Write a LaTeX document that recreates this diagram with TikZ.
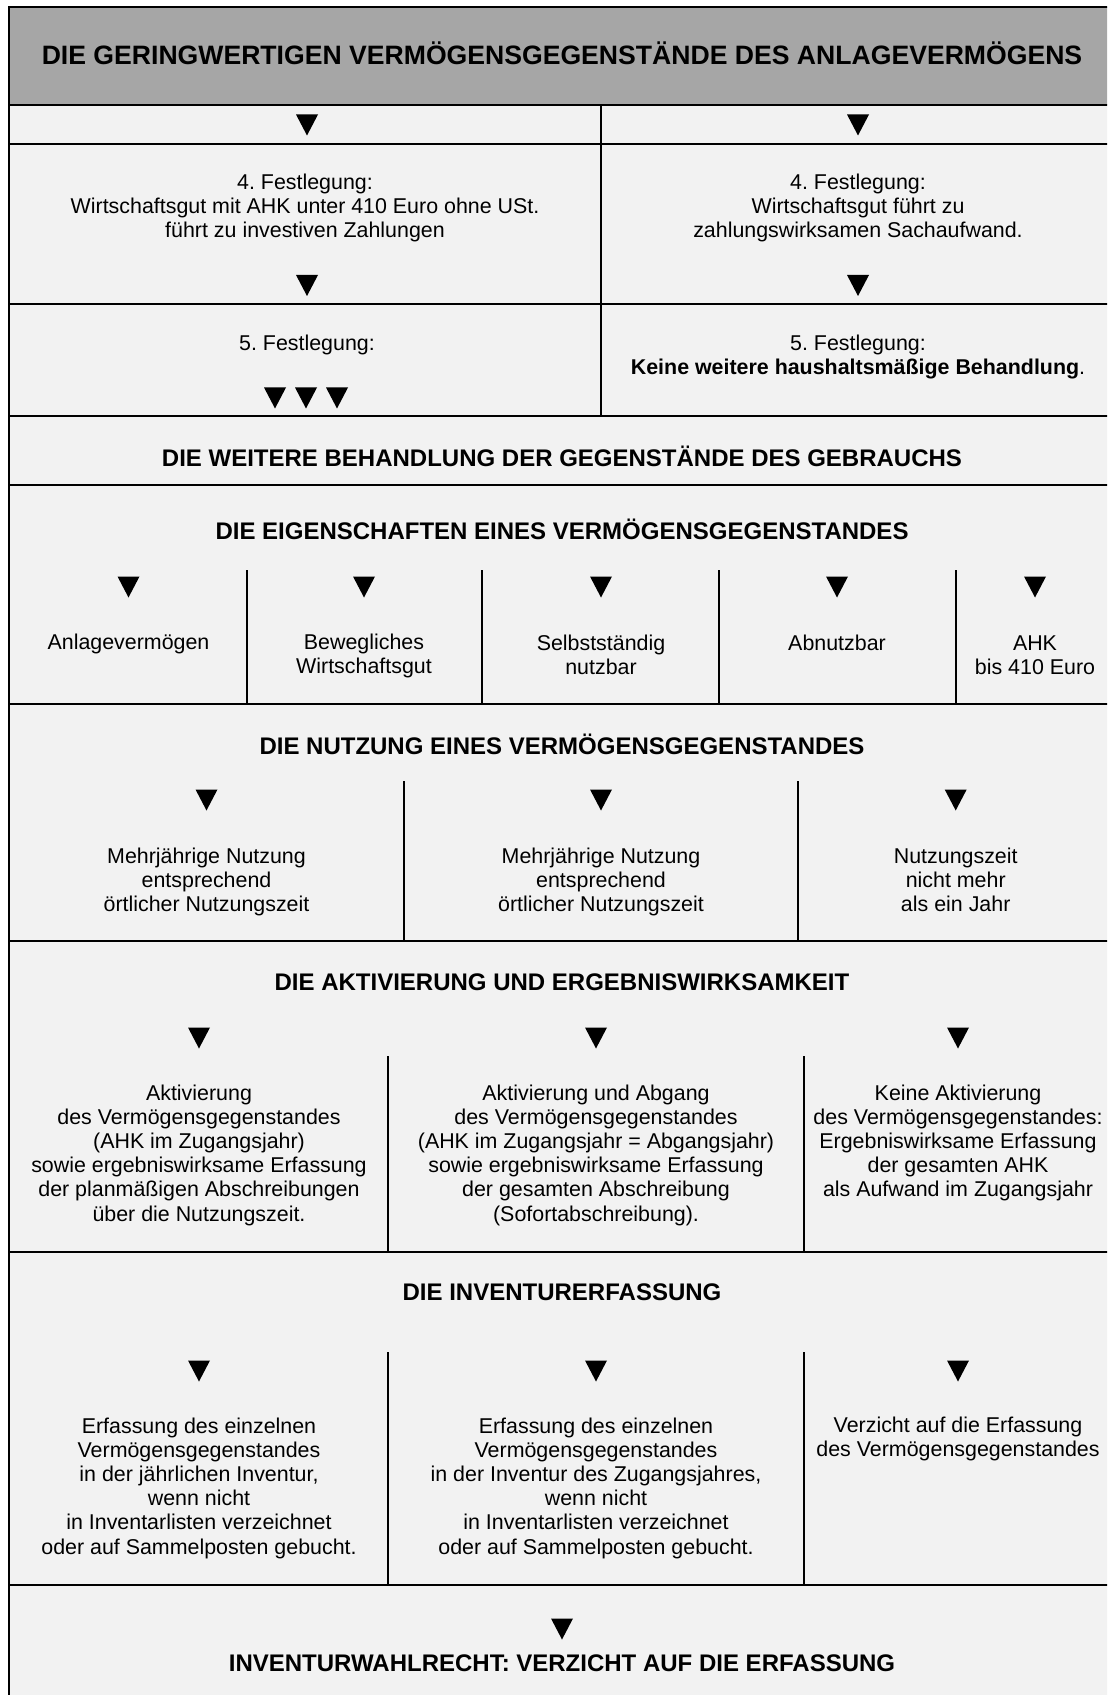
\documentclass[tikz,border=0pt]{standalone}
\usepackage{fontspec}
\setmainfont{Liberation Sans}
\frenchspacing
\definecolor{hdgray}{HTML}{A6A6A6}
\definecolor{cellgray}{HTML}{F2F2F2}
\tikzset{
  txt/.style={align=center, font=\fontsize{10.7}{12.1}\selectfont\frenchspacing, inner sep=0pt},
  hd/.style={align=center, font=\fontsize{12}{14}\selectfont\bfseries, inner sep=0pt},
  bighd/.style={align=center, font=\fontsize{13.3}{15}\selectfont\bfseries, inner sep=0pt},
  frame/.style={line width=1pt, black},
  downtri/.pic={\fill[black] (-11,-10.5) -- (11,-10.5) -- (0,10.5) -- cycle;}
}
\begin{document}
\begin{tikzpicture}[x=0.5pt,y=-0.5pt]
\useasboundingbox (0,0) rectangle (1107,1695);
\clip (0,0) rectangle (1107,1695);
% fills
\fill[white] (0,0) rectangle (1107,1695);
\fill[hdgray] (9,7) rectangle (1115,105);
\fill[cellgray] (9,105) rectangle (1115,1710);
% frame and rules
\draw[frame] (9,7) rectangle (1115,1710);
\foreach \yy in {105,144,304,416,485,704,941,1252,1585}
  \draw[frame] (9,\yy) -- (1115,\yy);
\draw[frame] (601,105) -- (601,416);
\foreach \xx in {246.5,482,719,955.7}
  \draw[frame] (\xx,570) -- (\xx,704);
\foreach \xx in {404,798}
  \draw[frame] (\xx,781) -- (\xx,941);
\foreach \xx in {388,804}{
  \draw[frame] (\xx,1056) -- (\xx,1252);
  \draw[frame] (\xx,1352) -- (\xx,1585);
}
% header
\node[bighd] (title) at (562,53) {DIE GERINGWERTIGEN VERMÖGENSGEGENSTÄNDE DES ANLAGEVERMÖGENS};
% top rows
\pic at (307,125) {downtri};
\pic at (858,125) {downtri};
\node[txt] (f4l) at (305,208) {4. Festlegung:\\Wirtschaftsgut mit AHK unter 410 Euro ohne USt.\\führt zu investiven Zahlungen};
\node[txt] (f4r) at (858,208) {4. Festlegung:\\Wirtschaftsgut führt zu\\zahlungswirksamen Sachaufwand.};
\pic at (307,285.5) {downtri};
\pic at (858,285.5) {downtri};
\node[txt] (f5l) at (307,345) {5. Festlegung:};
\pic at (275,398) {downtri};
\pic at (306,398) {downtri};
\pic at (337,398) {downtri};
\node[txt] (f5r) at (858,357) {5. Festlegung:\\\textbf{Keine weitere haushaltsmäßige Behandlung}.};
\node[hd] (weiter) at (562,456) {DIE WEITERE BEHANDLUNG DER GEGENSTÄNDE DES GEBRAUCHS};
% Eigenschaften
\node[hd] (eig) at (562,529) {DIE EIGENSCHAFTEN EINES VERMÖGENSGEGENSTANDES};
\foreach \xx in {128.5,364,601,837,1035}
  \pic at (\xx,587) {downtri};
\node[txt] (e1) at (128.5,644) {Anlagevermögen};
\node[txt] (e2) at (364,656) {Bewegliches\\Wirtschaftsgut};
\node[txt] (e3) at (601,655) {Selbstständig\\nutzbar};
\node[txt] (e4) at (837,643) {Abnutzbar};
\node[txt] (e5) at (1035,655) {AHK\\bis 410 Euro};
% Nutzung
\node[hd] (nutz) at (562,744) {DIE NUTZUNG EINES VERMÖGENSGEGENSTANDES};
\foreach \xx in {206.5,601,955.7}
  \pic at (\xx,800) {downtri};
\node[txt] (n1) at (206.5,882) {Mehrjährige Nutzung\\entsprechend\\örtlicher Nutzungszeit};
\node[txt] (n2) at (601,882) {Mehrjährige Nutzung\\entsprechend\\örtlicher Nutzungszeit};
\node[txt] (n3) at (955.7,880) {Nutzungszeit\\nicht mehr\\als ein Jahr};
% Aktivierung
\node[hd] (akt) at (562,982) {DIE AKTIVIERUNG UND ERGEBNISWIRKSAMKEIT};
\foreach \xx in {199,596,958}
  \pic at (\xx,1038) {downtri};
\node[txt] (a1) at (199,1155) {Aktivierung\\des Vermögensgegenstandes\\(AHK im Zugangsjahr)\\sowie ergebniswirksame Erfassung\\der planmäßigen Abschreibungen\\über die Nutzungszeit.};
\node[txt] (a2) at (596,1155) {Aktivierung und Abgang\\des Vermögensgegenstandes\\(AHK im Zugangsjahr = Abgangsjahr)\\sowie ergebniswirksame Erfassung\\der gesamten Abschreibung\\(Sofortabschreibung).};
\node[txt] (a3) at (958,1143) {Keine Aktivierung\\des Vermögensgegenstandes:\\Ergebniswirksame Erfassung\\der gesamten AHK\\als Aufwand im Zugangsjahr};
% Inventur
\node[hd] (inv) at (562,1292) {DIE INVENTURERFASSUNG};
\foreach \xx in {199,596,958}
  \pic at (\xx,1371) {downtri};
\node[txt] (i1) at (199,1488) {Erfassung des einzelnen\\Vermögensgegenstandes\\in der jährlichen Inventur,\\wenn nicht\\in Inventarlisten verzeichnet\\oder auf Sammelposten gebucht.};
\node[txt] (i2) at (596,1488) {Erfassung des einzelnen\\Vermögensgegenstandes\\in der Inventur des Zugangsjahres,\\wenn nicht\\in Inventarlisten verzeichnet\\oder auf Sammelposten gebucht.};
\node[txt] (i3) at (958,1439) {Verzicht auf die Erfassung\\des Vermögensgegenstandes};
% final
\pic at (562,1629) {downtri};
\node[hd] (wahl) at (562,1663) {INVENTURWAHLRECHT: VERZICHT AUF DIE ERFASSUNG};
\end{tikzpicture}
\end{document}
